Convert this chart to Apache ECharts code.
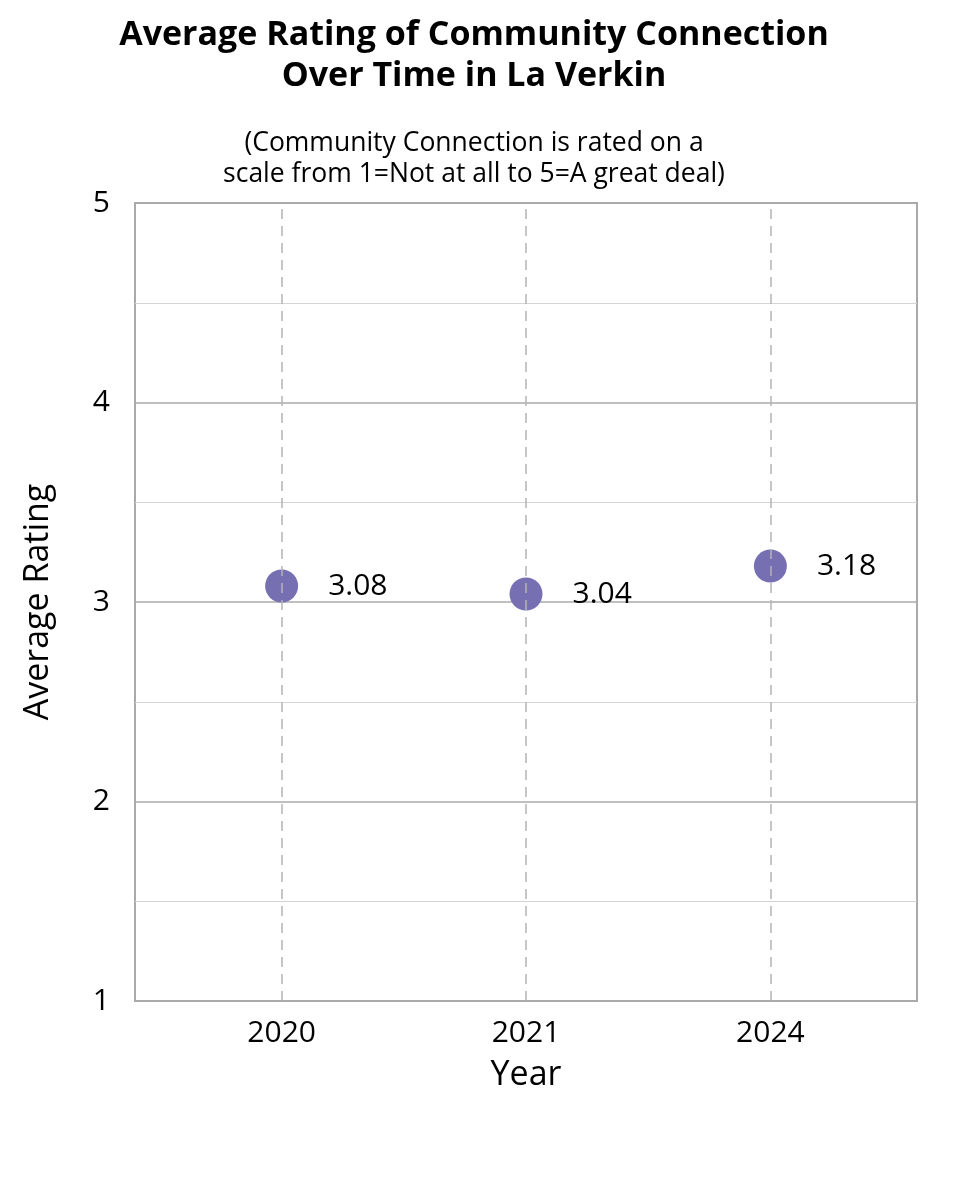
<!DOCTYPE html>
<html>
<head>
    <meta charset="UTF-8">
    <title></title>
    <style>
        html, body { margin: 0; padding: 0; background: #fff; }
        #container { width: 960px; height: 1200px; }
    </style>
</head>
<body>
    <div id="container"></div>
    <script src="https://cdn.jsdelivr.net/npm/echarts@6/dist/echarts.min.js"></script>
    <script>
        var years = ['2020', '2021', '2024'];
        var ratings = [3.08, 3.04, 3.18];
        var yTicks = [1, 2, 3, 4, 5];

        var fontName = 'Open Sans';
        // points sit at x = 1, 2, 3 on a value axis so the side gaps match
        var points = ratings.map(function (v, i) { return [i + 1, v]; });
        var yearPos = years.map(function (y, i) { return i + 1; });

        var myChart = echarts.init(document.getElementById('container'));
        myChart.setOption({
            backgroundColor: '#fff',
            animation: false,
            title: [{
                text: 'Average Rating of Community Connection\nOver Time in La Verkin',
                left: 469,
                top: 10,
                textAlign: 'center',
                textStyle: { fontFamily: fontName, fontSize: 34, fontWeight: 'bold', color: '#000', lineHeight: 41 }
            }, {
                text: '(Community Connection is rated on a\nscale from 1=Not at all to 5=A great deal)',
                left: 469,
                top: 123,
                textAlign: 'center',
                textStyle: { fontFamily: fontName, fontSize: 26.5, fontWeight: 'normal', color: '#000', lineHeight: 31 }
            }],
            grid: {
                left: 135, right: 43, top: 203, bottom: 199,
                show: true, borderColor: '#aaaaaa', borderWidth: 2, containLabel: false
            },
            xAxis: {
                type: 'value',
                min: 0.4,
                max: 3.6,
                name: 'Year',
                nameLocation: 'middle',
                nameGap: 57,
                nameTextStyle: { fontFamily: fontName, fontSize: 34, color: '#000' },
                axisLine: { show: false },
                axisTick: { show: false },
                splitLine: { show: false },
                axisLabel: {
                    customValues: yearPos,
                    formatter: function (v) { return years[Math.round(v) - 1] || ''; },
                    fontFamily: fontName, fontSize: 30, color: '#000', margin: 17
                }
            },
            yAxis: {
                type: 'value',
                min: yTicks[0],
                max: yTicks[yTicks.length - 1],
                interval: 1,
                name: 'Average Rating',
                nameLocation: 'middle',
                nameGap: 80,
                nameRotate: 90,
                nameTextStyle: { fontFamily: fontName, fontSize: 34, color: '#000' },
                axisLine: { show: false },
                axisTick: { show: false },
                axisLabel: { fontFamily: fontName, fontSize: 30, color: '#000', margin: 25 },
                splitLine: { show: true, lineStyle: { color: '#aaaaaa', width: 1.5 } },
                minorTick: { show: false, splitNumber: 2 },
                minorSplitLine: { show: true, lineStyle: { color: '#d4d4d4', width: 1 } }
            },
            series: [{
                type: 'scatter',
                data: points,
                symbol: 'circle',
                symbolSize: 33,
                itemStyle: { color: '#7670b3', opacity: 1 },
                label: {
                    show: true,
                    position: 'right',
                    distance: 30,
                    formatter: function (p) { return p.value[1].toFixed(2); },
                    fontFamily: fontName, fontSize: 30, color: '#000'
                },
                markLine: {
                    silent: true,
                    symbol: 'none',
                    label: { show: false },
                    lineStyle: { color: '#b4b4b4', type: [10, 7], width: 1.5, opacity: 1 },
                    data: yearPos.map(function (x) { return { xAxis: x }; })
                },
                z: 3
            }]
        });
    </script>
</body>
</html>
